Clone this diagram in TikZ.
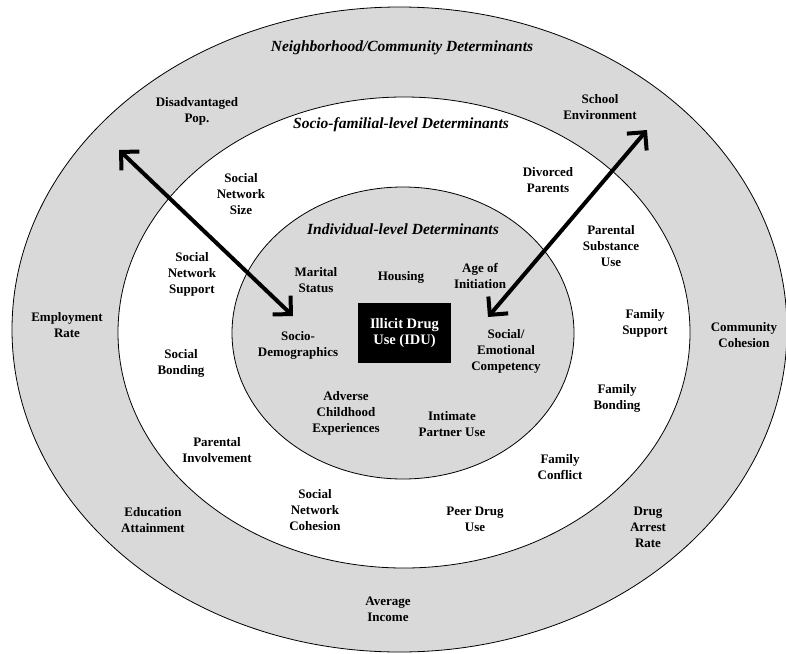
\documentclass[tikz,border=0pt]{standalone}
\usepackage{fontspec}
\setmainfont{Liberation Serif}
\usetikzlibrary{arrows.meta}
\definecolor{ring}{HTML}{D9D9D9}
\tikzset{
  lbl/.style={font=\bfseries\fontsize{13}{16}\selectfont, align=center, inner sep=0pt},
  head/.style={font=\bfseries\itshape\fontsize{15.5}{18}\selectfont, align=center, inner sep=0pt},
  ringline/.style={draw=black, line width=0.8pt},
  dblarrow/.style={line width=4pt, {Straight Barb[length=13pt,width=26pt]}-{Straight Barb[length=13pt,width=26pt]}},
}
\begin{document}
\begin{tikzpicture}[x=1pt,y=-1pt]
\useasboundingbox (0,0) rectangle (786,653);
% rings
\draw[ringline, fill=ring] (399.5,329.5) ellipse [x radius=387.5, y radius=322.5];
\draw[ringline, fill=white] (404,332.5) ellipse [x radius=286, y radius=235.5];
\draw[ringline, fill=ring] (403,333) ellipse [x radius=171, y radius=146];
% headings
\node[head] (hN) at (402,48) {Neighborhood/Community Determinants};
\node[head] (hS) at (401,125) {Socio-familial-level Determinants};
\node[head] (hI) at (403,229) {Individual-level Determinants};
% centre box
\node[fill=black, text=white, minimum width=93pt, minimum height=60pt, inner sep=0pt,
      font=\bfseries\fontsize{14.5}{16}\selectfont, align=center] (idu) at (404.5,333) {Illicit Drug\\Use (IDU)};
% outer ring labels
\node[lbl] (dis) at (197,111) {Disadvantaged\\Pop.};
\node[lbl] (sch) at (600,107) {School\\Environment};
\node[lbl] (emp) at (67,325) {Employment\\Rate};
\node[lbl] (com) at (744,335) {Community\\Cohesion};
\node[lbl] (edu) at (153,520) {Education\\Attainment};
\node[lbl] (dar) at (648,527) {Drug\\Arrest\\Rate};
\node[lbl] (avg) at (388,609) {Average\\Income};
% middle ring labels
\node[lbl] (sns) at (241,194) {Social\\Network\\Size};
\node[lbl] (div) at (548,180) {Divorced\\Parents};
\node[lbl] (snsup) at (192,274) {Social\\Network\\Support};
\node[lbl] (psu) at (611,246) {Parental\\Substance\\Use};
\node[lbl] (fsup) at (645,323) {Family\\Support};
\node[lbl] (sbond) at (181,363) {Social\\Bonding};
\node[lbl] (fbond) at (617,398) {Family\\Bonding};
\node[lbl] (pinv) at (217,450) {Parental\\Involvement};
\node[lbl] (fcon) at (560,467) {Family\\Conflict};
\node[lbl] (snc) at (315,510) {Social\\Network\\Cohesion};
\node[lbl] (pdu) at (475,519) {Peer Drug\\Use};
% inner labels
\node[lbl] (mar) at (316,280) {Marital\\Status};
\node[lbl] (hou) at (401,277) {Housing};
\node[lbl] (age) at (480,276) {Age of\\Initiation};
\node[lbl] (soc) at (298,345) {Socio-\\Demographics};
\node[lbl] (emo) at (506,351) {Social/\\Emotional\\Competency};
\node[lbl] (adv) at (346,413) {Adverse\\Childhood\\Experiences};
\node[lbl] (ipu) at (452,424) {Intimate\\Partner Use};
% arrows
\coordinate (aL1) at (119,150);
\coordinate (aL2) at (293,316);
\coordinate (aR1) at (647,130);
\coordinate (aR2) at (488,317);
\draw[dblarrow] (aL1) -- (aL2);
\draw[dblarrow] (aR1) -- (aR2);
\end{tikzpicture}
\end{document}
